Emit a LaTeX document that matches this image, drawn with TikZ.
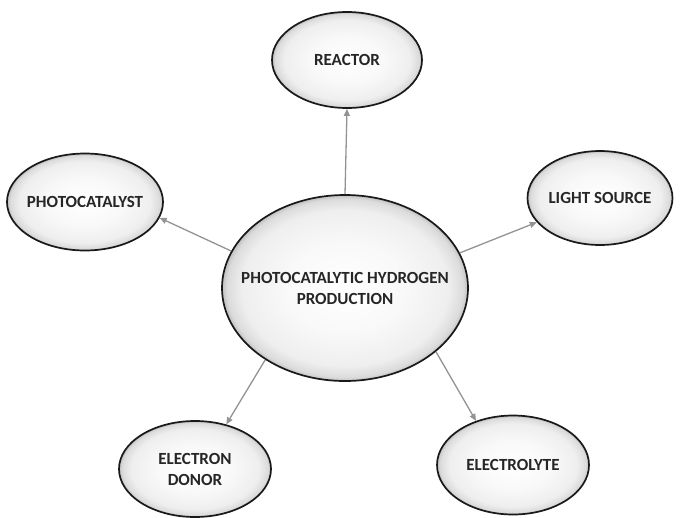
\documentclass[tikz,border=0pt]{standalone}
\usepackage{fontspec}
\setmainfont{Carlito}
\usetikzlibrary{shapes.geometric, arrows.meta}

% soft grey fill for the bubbles
\pgfdeclareradialshading{bubblefill}{\pgfpoint{0bp}{0bp}}{%
  color(0bp)=(white); color(12bp)=(gray!5); color(21bp)=(gray!13);
  color(24bp)=(gray!28); color(25bp)=(gray!50); color(50bp)=(gray!50)}

\tikzset{
  bubble/.style={ellipse, draw=black!90, line width=1.7pt, shading=bubblefill,
    inner ysep=0pt, inner xsep=-60pt, text=black!85, align=center,
    font=\bfseries\fontsize{17}{21}\selectfont},
  link/.style={draw=gray!85, line width=1.3pt,
    -{Triangle[length=7pt, width=6pt]}}
}

\begin{document}
\begin{tikzpicture}[x=1pt, y=-1pt]
  \useasboundingbox (0,0) rectangle (684,517);
  % centre
  \node[bubble, minimum width=246pt, minimum height=186pt] (main) at (345,288)
    {PHOTOCATALYTIC HYDROGEN\\PRODUCTION};
  % outer bubbles
  \node[bubble, minimum width=150pt, minimum height=96pt] (reactor) at (347,60) {REACTOR};
  \node[bubble, minimum width=156pt, minimum height=97pt] (catalyst) at (85,202) {PHOTOCATALYST};
  \node[bubble, minimum width=145pt, minimum height=94pt] (light) at (600,198) {LIGHT SOURCE};
  \node[bubble, minimum width=152pt, minimum height=96pt] (donor) at (195,469) {ELECTRON\\DONOR};
  \node[bubble, minimum width=152pt, minimum height=99pt] (electrolyte) at (513,465) {ELECTROLYTE};
  % arrows out of the centre
  \draw[link] (main.90) -- (reactor.270);
  \draw[link] (main.162) -- (catalyst.348);
  \draw[link] (main.17) -- (light.201);
  \draw[link] (main.222) -- (donor.55);
  \draw[link] (main.325) -- (electrolyte.130);
\end{tikzpicture}
\end{document}
